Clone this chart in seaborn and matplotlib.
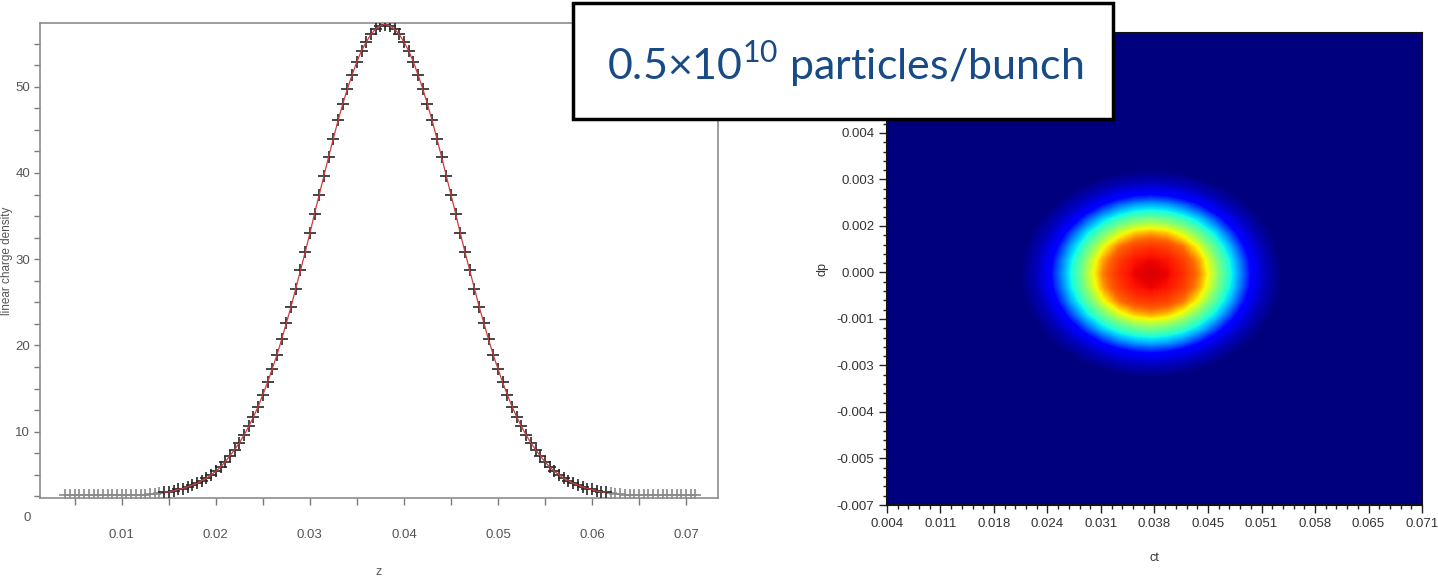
import numpy as np
import pandas as pd
import matplotlib
matplotlib.use("Agg")
import matplotlib.pyplot as plt
import matplotlib.patches as mpatches
from matplotlib.colors import LinearSegmentedColormap
from matplotlib.ticker import MultipleLocator, FixedLocator, AutoMinorLocator, FuncFormatter
import seaborn as sns

# ---------------- data: left panel (linear charge density vs z) ----------------
z = [0.0040, 0.0045, 0.0050, 0.0055, 0.0060, 0.0065, 0.0070, 0.0075, 0.0080, 0.0085,
     0.0090, 0.0095, 0.0100, 0.0105, 0.0110, 0.0115, 0.0120, 0.0125, 0.0130, 0.0135,
     0.0140, 0.0145, 0.0150, 0.0155, 0.0160, 0.0165, 0.0170, 0.0175, 0.0180, 0.0185,
     0.0190, 0.0195, 0.0200, 0.0205, 0.0210, 0.0215, 0.0220, 0.0225, 0.0230, 0.0235,
     0.0240, 0.0245, 0.0250, 0.0255, 0.0260, 0.0265, 0.0270, 0.0275, 0.0280, 0.0285,
     0.0290, 0.0295, 0.0300, 0.0305, 0.0310, 0.0315, 0.0320, 0.0325, 0.0330, 0.0335,
     0.0340, 0.0345, 0.0350, 0.0355, 0.0360, 0.0365, 0.0370, 0.0375, 0.0380, 0.0385,
     0.0390, 0.0395, 0.0400, 0.0405, 0.0410, 0.0415, 0.0420, 0.0425, 0.0430, 0.0435,
     0.0440, 0.0445, 0.0450, 0.0455, 0.0460, 0.0465, 0.0470, 0.0475, 0.0480, 0.0485,
     0.0490, 0.0495, 0.0500, 0.0505, 0.0510, 0.0515, 0.0520, 0.0525, 0.0530, 0.0535,
     0.0540, 0.0545, 0.0550, 0.0555, 0.0560, 0.0565, 0.0570, 0.0575, 0.0580, 0.0585,
     0.0590, 0.0595, 0.0600, 0.0605, 0.0610, 0.0615, 0.0620, 0.0625, 0.0630, 0.0635,
     0.0640, 0.0645, 0.0650, 0.0655, 0.0660, 0.0665, 0.0670, 0.0675, 0.0680, 0.0685,
     0.0690, 0.0695, 0.0700, 0.0705, 0.0710]

density = [2.7, 2.7, 2.7, 2.7, 2.7, 2.7, 2.7, 2.7, 2.7, 2.7,
           2.7, 2.7, 2.7, 2.7, 2.7, 2.7, 2.7, 2.7, 2.8, 2.8,
           2.9, 3.0, 3.0, 3.1, 3.3, 3.4, 3.6, 3.8, 4.0, 4.3,
           4.6, 5.0, 5.4, 5.9, 6.5, 7.2, 7.9, 8.7, 9.6, 10.6,
           11.7, 12.9, 14.3, 15.7, 17.3, 18.9, 20.7, 22.6, 24.5, 26.6,
           28.7, 30.8, 33.0, 35.3, 37.5, 39.7, 41.9, 44.0, 46.1, 48.0,
           49.8, 51.4, 52.9, 54.2, 55.2, 56.1, 56.7, 57.1, 57.2, 57.1,
           56.7, 56.1, 55.2, 54.2, 52.9, 51.4, 49.8, 48.0, 46.1, 44.0,
           41.9, 39.7, 37.5, 35.3, 33.0, 30.8, 28.7, 26.6, 24.5, 22.6,
           20.7, 18.9, 17.3, 15.7, 14.3, 12.9, 11.7, 10.6, 9.6, 8.7,
           7.9, 7.2, 6.5, 5.9, 5.4, 5.0, 4.6, 4.3, 4.0, 3.8,
           3.6, 3.4, 3.3, 3.1, 3.0, 3.0, 2.9, 2.8, 2.8, 2.7,
           2.7, 2.7, 2.7, 2.7, 2.7, 2.7, 2.7, 2.7, 2.7, 2.7,
           2.7, 2.7, 2.7, 2.7, 2.7]

fit_range = (0.0145, 0.0615)   # z range where the red fitted curve is drawn

# ---------------- data: right panel (longitudinal phase space ct - dp) ----------------
# elliptical (parabolic) density: level = 1 + ct_profile + dp_profile
ct_grid = [0.003, 0.005, 0.007, 0.009, 0.011, 0.013, 0.015, 0.017, 0.019, 0.021,
           0.023, 0.025, 0.027, 0.029, 0.031, 0.033, 0.035, 0.037, 0.039, 0.041,
           0.043, 0.045, 0.047, 0.049, 0.051, 0.053, 0.055, 0.057, 0.059, 0.061,
           0.063, 0.065, 0.067, 0.069, 0.071, 0.073]
ct_profile = [-4.309, -3.817, -3.355, -2.922, -2.520, -2.147, -1.804, -1.491, -1.208, -0.954,
              -0.731, -0.537, -0.373, -0.239, -0.134, -0.060, -0.015, 0.000, -0.015, -0.060,
              -0.134, -0.239, -0.373, -0.537, -0.731, -0.954, -1.208, -1.491, -1.804, -2.147,
              -2.520, -2.922, -3.355, -3.817, -4.309, -4.831]
dp_grid = [-0.0067, -0.0063, -0.0059, -0.0055, -0.0051, -0.0047, -0.0043, -0.0039, -0.0035,
           -0.0031, -0.0027, -0.0023, -0.0019, -0.0015, -0.0011, -0.0007, -0.0003, 0.0001,
           0.0005, 0.0009, 0.0013, 0.0017, 0.0021, 0.0025, 0.0029, 0.0033, 0.0037,
           0.0041, 0.0045, 0.0049, 0.0053, 0.0057, 0.0061, 0.0065, 0.0069, 0.0073]
dp_profile = [-5.070, -4.491, -3.947, -3.438, -2.965, -2.526, -2.123, -1.754, -1.421,
              -1.123, -0.860, -0.632, -0.439, -0.281, -0.158, -0.070, -0.018, 0.000,
              -0.018, -0.070, -0.158, -0.281, -0.439, -0.632, -0.860, -1.123, -1.421,
              -1.754, -2.123, -2.526, -2.965, -3.438, -3.947, -4.491, -5.070, -5.684]

# colour response of the density levels (level -> position in the jet colormap)
level_stops = [0.00, 0.22, 0.41, 0.52, 0.62, 0.726, 0.80, 0.88, 1.00]
jet_stops = [0.00, 0.05, 0.12, 0.25, 0.37, 0.50, 0.63, 0.80, 0.92]

ct_ticks = [0.004, 0.0107, 0.0174, 0.0241, 0.0308, 0.0375, 0.0442, 0.0509, 0.0576, 0.0643, 0.071]
ct_ticklabels = ["0.004", "0.011", "0.018", "0.024", "0.031", "0.038", "0.045",
                 "0.051", "0.058", "0.065", "0.071"]
dp_ticks = [-0.0066, -0.00525, -0.0039, -0.00255, -0.0012, 0.00015, 0.0015, 0.00285, 0.0042]
dp_ticklabels = ["-0.007", "-0.005", "-0.004", "-0.003", "-0.001", "0.000",
                 "0.002", "0.003", "0.004"]

annotation = "0.5×10$^{\\mathrm{10}}$ particles/bunch"

# ---------------- style ----------------
sns.set_style("white")
plt.rcParams["font.family"] = ["Liberation Sans", "DejaVu Sans"]
plt.rcParams["mathtext.fontset"] = "custom"
plt.rcParams["mathtext.rm"] = "Lato"

fig = plt.figure(figsize=(14.38, 5.82), dpi=100)

# ---------------- left panel ----------------
ax1 = fig.add_axes([0.0278, 0.1443, 0.4715, 0.8162])
df = pd.DataFrame({"z": z, "density": density})
in_fit = (df["z"] >= fit_range[0] - 1e-9) & (df["z"] <= fit_range[1] + 1e-9)

sns.scatterplot(data=df[~in_fit], x="z", y="density", marker="+", s=80,
                color="#8a8a8a", linewidth=1.2, ax=ax1, zorder=3, legend=False)
sns.scatterplot(data=df[in_fit], x="z", y="density", marker="+", s=80,
                color="#262626", linewidth=1.2, ax=ax1, zorder=3, legend=False)
sns.lineplot(data=df[in_fit], x="z", y="density", color="#d23a3a", linewidth=0.9,
             ax=ax1, zorder=4, legend=False)

ax1.set_xlim(0.0013, 0.0734)
ax1.set_ylim(2.3, 57.4)
ax1.xaxis.set_major_locator(MultipleLocator(0.01))
ax1.xaxis.set_minor_locator(MultipleLocator(0.005))
ax1.yaxis.set_major_locator(MultipleLocator(10))
ax1.yaxis.set_minor_locator(MultipleLocator(2.5))
ax1.xaxis.set_major_formatter(FuncFormatter(lambda v, p: f"{v:.2f}"))
ax1.tick_params(axis="both", which="both", direction="out", color="#7a7a7a",
                labelcolor="#555555", labelsize=9.5)
ax1.tick_params(axis="x", which="both", length=5, width=1, pad=17, bottom=True)
ax1.tick_params(axis="y", which="both", length=4, width=1, pad=3, left=True)
for sp in ax1.spines.values():
    sp.set_color("#8c8c8c")
    sp.set_linewidth(1.2)
ax1.set_xlabel("z", fontsize=9, color="#555555", labelpad=18)
ax1.set_ylabel("linear charge density", fontsize=8.5, color="#555555")
ax1.yaxis.set_label_coords(-0.040, 0.5)
ax1.annotate("0", xy=(0, 0), xycoords=("axes fraction", "data"), xytext=(-9.5, 0),
             textcoords="offset points", ha="center", va="center", fontsize=9.5,
             color="#555555", annotation_clip=False)

# ---------------- right panel ----------------
ax2 = fig.add_axes([0.6168, 0.1323, 0.3721, 0.811])
levels = 1.0 + np.add.outer(np.array(dp_profile), np.array(ct_profile))
jet = plt.get_cmap("jet")
samp = np.linspace(0, 1, 256)
phase_cmap = LinearSegmentedColormap.from_list(
    "phase_jet", jet(np.interp(samp, level_stops, jet_stops)))
phase_cmap.set_under(jet(0.0))
extent = [ct_grid[0] - 0.001, ct_grid[-1] + 0.001, dp_grid[0] - 0.0002, dp_grid[-1] + 0.0002]
ax2.imshow(levels, cmap=phase_cmap, vmin=0, vmax=1, origin="lower", extent=extent,
           aspect="auto", interpolation="bilinear")
ax2.set_xlim(0.004, 0.071)
ax2.set_ylim(-0.0066, 0.0071)
ax2.xaxis.set_major_locator(FixedLocator(ct_ticks))
ax2.set_xticklabels(ct_ticklabels)
ax2.yaxis.set_major_locator(FixedLocator(dp_ticks))
ax2.set_yticklabels(dp_ticklabels)
ax2.xaxis.set_minor_locator(AutoMinorLocator(5))
ax2.yaxis.set_minor_locator(AutoMinorLocator(5))
ax2.tick_params(axis="both", which="both", direction="out", color="#222222",
                labelcolor="#333333", labelsize=9.5, bottom=True, left=True)
ax2.tick_params(axis="both", which="major", length=6, width=1, pad=3)
ax2.tick_params(axis="both", which="minor", length=3, width=1)
for sp in ax2.spines.values():
    sp.set_color("#111111")
    sp.set_linewidth(1.5)
ax2.set_xlabel("ct", fontsize=9, color="#333333", labelpad=16)
ax2.set_ylabel("dp", fontsize=9, color="#333333", labelpad=6)

# ---------------- annotation box ----------------
rect = mpatches.Rectangle((0.3985, 0.7955), 0.3755, 0.1993, transform=fig.transFigure,
                          facecolor="white", edgecolor="black", linewidth=2.5, zorder=10)
fig.add_artist(rect)
fig.text(0.4221, 0.8625, annotation, ha="left", va="baseline", fontsize=31,
         family=["Lato", "DejaVu Sans"], color="#184a86", zorder=11)

fig.savefig("out.png", dpi=100)
